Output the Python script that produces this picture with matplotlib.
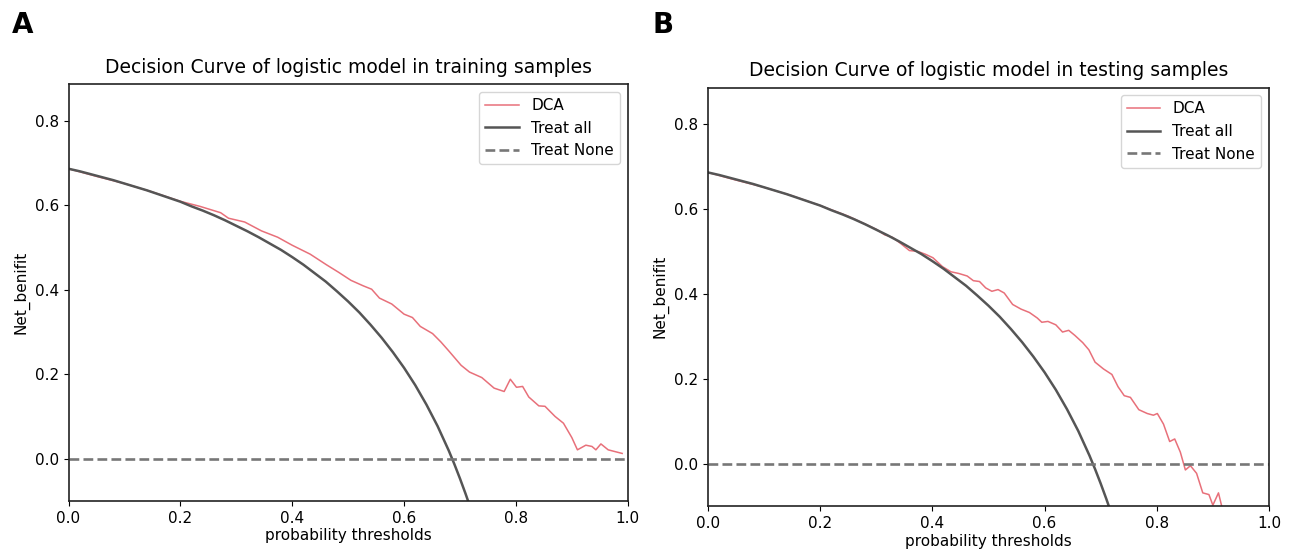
import numpy as np
import matplotlib
matplotlib.use('Agg')
import matplotlib.pyplot as plt

# Values
treat_all_x = [0.00, 0.02, 0.04, 0.06, 0.08, 0.10, 0.12, 0.14, 0.16, 0.18,
               0.20, 0.22, 0.24, 0.26, 0.28, 0.30, 0.32, 0.34, 0.36, 0.38,
               0.40, 0.42, 0.44, 0.46, 0.48, 0.50, 0.52, 0.54, 0.56, 0.58,
               0.60, 0.62, 0.64, 0.66, 0.68, 0.69, 0.70, 0.71, 0.72]
treat_all_y = [0.686, 0.680, 0.673, 0.666, 0.659, 0.651, 0.643, 0.635, 0.626, 0.617,
               0.608, 0.597, 0.587, 0.576, 0.564, 0.551, 0.538, 0.524, 0.509, 0.494,
               0.477, 0.459, 0.439, 0.419, 0.396, 0.372, 0.346, 0.317, 0.286, 0.252,
               0.215, 0.174, 0.128, 0.077, 0.019, -0.013, -0.047, -0.083, -0.121]

train_x = [0.00, 0.05, 0.10, 0.15, 0.20, 0.235, 0.272, 0.286, 0.315, 0.345,
           0.374, 0.400, 0.432, 0.461, 0.483, 0.505, 0.527, 0.542, 0.556, 0.578,
           0.600, 0.615, 0.629, 0.651, 0.666, 0.680, 0.702, 0.717, 0.739, 0.761,
           0.779, 0.790, 0.801, 0.812, 0.823, 0.841, 0.852, 0.870, 0.885, 0.900,
           0.910, 0.925, 0.936, 0.943, 0.952, 0.965, 0.990]
train_y = [0.686, 0.668, 0.651, 0.631, 0.609, 0.597, 0.582, 0.569, 0.560, 0.539,
           0.524, 0.505, 0.484, 0.459, 0.441, 0.422, 0.409, 0.401, 0.380, 0.366,
           0.342, 0.334, 0.313, 0.296, 0.276, 0.255, 0.221, 0.205, 0.192, 0.167,
           0.159, 0.188, 0.169, 0.171, 0.146, 0.125, 0.124, 0.100, 0.084, 0.050,
           0.021, 0.032, 0.029, 0.021, 0.035, 0.021, 0.0125]

test_x = [0.00, 0.05, 0.10, 0.15, 0.20, 0.25, 0.300, 0.315, 0.329, 0.344,
          0.359, 0.374, 0.388, 0.401, 0.418, 0.433, 0.447, 0.462, 0.473, 0.484,
          0.495, 0.506, 0.517, 0.528, 0.543, 0.558, 0.573, 0.587, 0.595, 0.606,
          0.620, 0.632, 0.643, 0.654, 0.668, 0.679, 0.690, 0.705, 0.720, 0.731,
          0.742, 0.753, 0.768, 0.783, 0.794, 0.801, 0.812, 0.823, 0.832, 0.842,
          0.851, 0.860, 0.871, 0.882, 0.893, 0.900, 0.910, 0.917]
test_y = [0.686, 0.668, 0.651, 0.631, 0.608, 0.583, 0.552, 0.539, 0.533, 0.518,
          0.502, 0.500, 0.493, 0.485, 0.464, 0.452, 0.448, 0.442, 0.431, 0.429,
          0.414, 0.406, 0.410, 0.402, 0.375, 0.364, 0.356, 0.343, 0.333, 0.335,
          0.327, 0.310, 0.314, 0.302, 0.285, 0.268, 0.239, 0.223, 0.210, 0.181,
          0.160, 0.156, 0.127, 0.118, 0.114, 0.118, 0.093, 0.052, 0.058, 0.027,
          -0.015, -0.005, -0.023, -0.069, -0.073, -0.098, -0.069, -0.107]

titles = ['Decision Curve of logistic model in training samples',
          'Decision Curve of logistic model in testing samples']
panel_labels = ['A', 'B']
y_top = 0.886
y_bottom = -0.1

fig = plt.figure(figsize=(12.93, 5.54), dpi=100)
ax1 = fig.add_axes([0.053, 0.0957, 0.4325, 0.7523])
ax2 = fig.add_axes([0.5476, 0.0866, 0.4338, 0.7553])

panels = [(ax1, train_x, train_y), (ax2, test_x, test_y)]
for i, (ax, dx, dy) in enumerate(panels):
    ax.plot(dx, dy, color='#e8707a', lw=1.1, label='DCA')
    ax.plot(treat_all_x, treat_all_y, color='#555555', lw=1.8, label='Treat all')
    ax.plot([0, 1], [0, 0], color='#777777', lw=1.9, ls='--', label='Treat None')
    ax.set_xlim(0, 1)
    ax.set_ylim(y_bottom, y_top)
    ax.set_xticks([0.0, 0.2, 0.4, 0.6, 0.8, 1.0])
    ax.set_yticks([0.0, 0.2, 0.4, 0.6, 0.8])
    ax.tick_params(labelsize=11)
    for s in ax.spines.values():
        s.set_linewidth(1.2)
        s.set_color('#222222')
    ax.set_xlabel('probability thresholds', fontsize=11, labelpad=2)
    ax.set_ylabel('Net_benifit', fontsize=11)
    ax.set_title(titles[i], fontsize=13.5, pad=8)
    ax.legend(loc='upper right', fontsize=11, handlelength=2.2)

fig.text(0.009, 0.955, panel_labels[0], fontsize=20, fontweight='bold', va='center')
fig.text(0.505, 0.955, panel_labels[1], fontsize=20, fontweight='bold', va='center')

fig.savefig('out.png', dpi=100)
